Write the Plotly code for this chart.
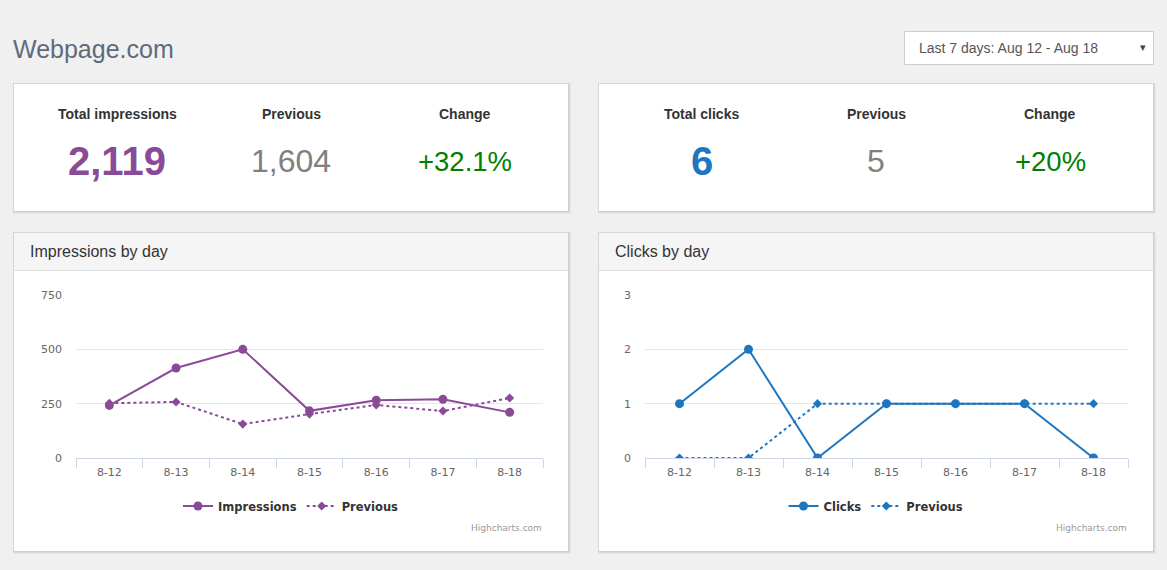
import plotly.graph_objects as go

W, H = 1167, 570

days = ["8-12", "8-13", "8-14", "8-15", "8-16", "8-17", "8-18"]
impressions = [242, 414, 500, 217, 266, 270, 210]
impressions_prev = [252, 258, 156, 202, 244, 216, 276]
clicks = [1, 2, 0, 1, 1, 1, 0]
clicks_prev = [0, 0, 1, 1, 1, 1, 1]

imp_ticks = [0, 250, 500, 750]
clk_ticks = [0, 1, 2, 3]

PURPLE = "#8a4a98"
BLUE = "#1f76c0"
GREEN = "#008000"
GREY = "#808080"


def px(x):
    return x / W


def py(y):
    return 1 - y / H


fig = go.Figure()

fig.add_trace(go.Scatter(x=days, y=impressions, name="Impressions", mode="lines+markers",
                         line=dict(color=PURPLE, width=2), marker=dict(symbol="circle", size=9, color=PURPLE),
                         xaxis="x", yaxis="y", legend="legend"))
fig.add_trace(go.Scatter(x=days, y=impressions_prev, name="Previous", mode="lines+markers",
                         line=dict(color=PURPLE, width=2, dash="dot"), marker=dict(symbol="diamond", size=7, color=PURPLE),
                         xaxis="x", yaxis="y", legend="legend"))
fig.add_trace(go.Scatter(x=days, y=clicks, name="Clicks", mode="lines+markers",
                         line=dict(color=BLUE, width=2), marker=dict(symbol="circle", size=9, color=BLUE),
                         xaxis="x2", yaxis="y2", legend="legend2"))
fig.add_trace(go.Scatter(x=days, y=clicks_prev, name="Previous", mode="lines+markers",
                         line=dict(color=BLUE, width=2, dash="dot"), marker=dict(symbol="diamond", size=7, color=BLUE),
                         xaxis="x2", yaxis="y2", legend="legend2"))

shapes = []


def rect(x0, y0, x1, y1, fill, line=None):
    shapes.append(dict(type="rect", xref="paper", yref="paper", layer="below",
                       x0=px(x0), x1=px(x1), y0=py(y1), y1=py(y0),
                       fillcolor=fill, line=line or dict(width=0)))


def card(x0, y0, x1, y1):
    # soft shadow
    rect(x0 - 1, y0 - 1, x1 + 3, y1 + 3, "#e6e6e6")
    rect(x0 - 1, y0 - 1, x1 + 2, y1 + 2, "#dadada")
    rect(x0 - 0.5, y0 - 0.5, x1 + 1, y1 + 1, "#cfcfcf")
    rect(x0, y0, x1, y1, "white")


card(14, 84, 568, 211)
card(599, 84, 1153, 211)
card(14, 233, 568, 551)
card(599, 233, 1153, 551)

for x0, x1 in [(14, 568), (599, 1153)]:
    rect(x0, 233, x1, 270, "#f5f5f5")
    shapes.append(dict(type="line", xref="paper", yref="paper", layer="below",
                       x0=px(x0), x1=px(x1), y0=py(270.5), y1=py(270.5),
                       line=dict(color="#dddddd", width=1)))

# dropdown
rect(904.5, 31.5, 1153.5, 64.5, "white", dict(color="#cccccc", width=1))

annotations = []


def text(x, y, s, size, color, family="Liberation Sans", weight="normal", xanchor="center"):
    annotations.append(dict(x=px(x), y=py(y), xref="paper", yref="paper", text=s, showarrow=False,
                            xanchor=xanchor, yanchor="middle",
                            font=dict(family=family, size=size, color=color, weight=weight)))


text(11, 49, "Webpage.com", 25, "#5f6b7b", xanchor="left")
text(917, 48, "Last 7 days: Aug 12 - Aug 18", 14, "#555555", xanchor="left")
text(1143, 47, "▾", 11, "#444444", family="DejaVu Sans")

text(117, 114, "Total impressions", 14, "#333333", weight="bold")
text(291, 114, "Previous", 14, "#333333", weight="bold")
text(465, 114, "Change", 14, "#333333", weight="bold")
text(117, 161, "2,119", 40, PURPLE, weight="bold")
text(291, 161, "1,604", 32, GREY)
text(465, 161, "+32.1%", 27.5, GREEN)

text(702, 114, "Total clicks", 14, "#333333", weight="bold")
text(876, 114, "Previous", 14, "#333333", weight="bold")
text(1050, 114, "Change", 14, "#333333", weight="bold")
text(702, 161, "6", 40, BLUE, weight="bold")
text(876, 161, "5", 32, GREY)
text(1050, 161, "+20%", 27.5, GREEN)

text(28, 251, "Impressions by day", 16, "#333333", xanchor="left")
text(613, 251, "Clicks by day", 16, "#333333", xanchor="left")

text(544, 528, "Highcharts.com", 9, "#999999", family="DejaVu Sans", xanchor="right")
text(1129, 528, "Highcharts.com", 9, "#999999", family="DejaVu Sans", xanchor="right")

axis_font = dict(family="DejaVu Sans", size=11, color="#666666")

xaxis_common = dict(type="category", range=[-0.5, 6.5], showgrid=False, showline=True,
                    linecolor="#ccd6eb", linewidth=1, ticks="outside", tickson="boundaries",
                    ticklen=9, tickcolor="#ccd6eb", tickfont=axis_font, zeroline=False,
                    ticklabelstandoff=4, fixedrange=True)
yaxis_common = dict(showgrid=True, gridcolor="#e6e6e6", gridwidth=1, zeroline=False,
                    showline=False, ticks="", tickfont=axis_font, ticklabelstandoff=13,
                    fixedrange=True)

legend_common = dict(orientation="h", xanchor="center", yanchor="middle", y=py(506),
                     bgcolor="rgba(0,0,0,0)",
                     font=dict(family="DejaVu Sans", size=11.5, color="#333333", weight="bold"),
                     itemwidth=30, tracegroupgap=0)

fig.update_layout(
    width=W, height=H,
    margin=dict(l=0, r=0, t=0, b=0, autoexpand=False),
    paper_bgcolor="#f0f0f0",
    plot_bgcolor="rgba(0,0,0,0)",
    showlegend=True,
    xaxis=dict(domain=[px(76), px(543)], anchor="y", **xaxis_common),
    yaxis=dict(domain=[py(458), py(295)], anchor="x", range=[0, 750], tickvals=imp_ticks, **yaxis_common),
    xaxis2=dict(domain=[px(645), px(1128)], anchor="y2", **xaxis_common),
    yaxis2=dict(domain=[py(458), py(295)], anchor="x2", range=[0, 3], tickvals=clk_ticks, **yaxis_common),
    legend=dict(x=px(291), **legend_common),
    legend2=dict(x=px(876), **legend_common),
    shapes=shapes,
    annotations=annotations,
)

fig.write_html("out.html")
